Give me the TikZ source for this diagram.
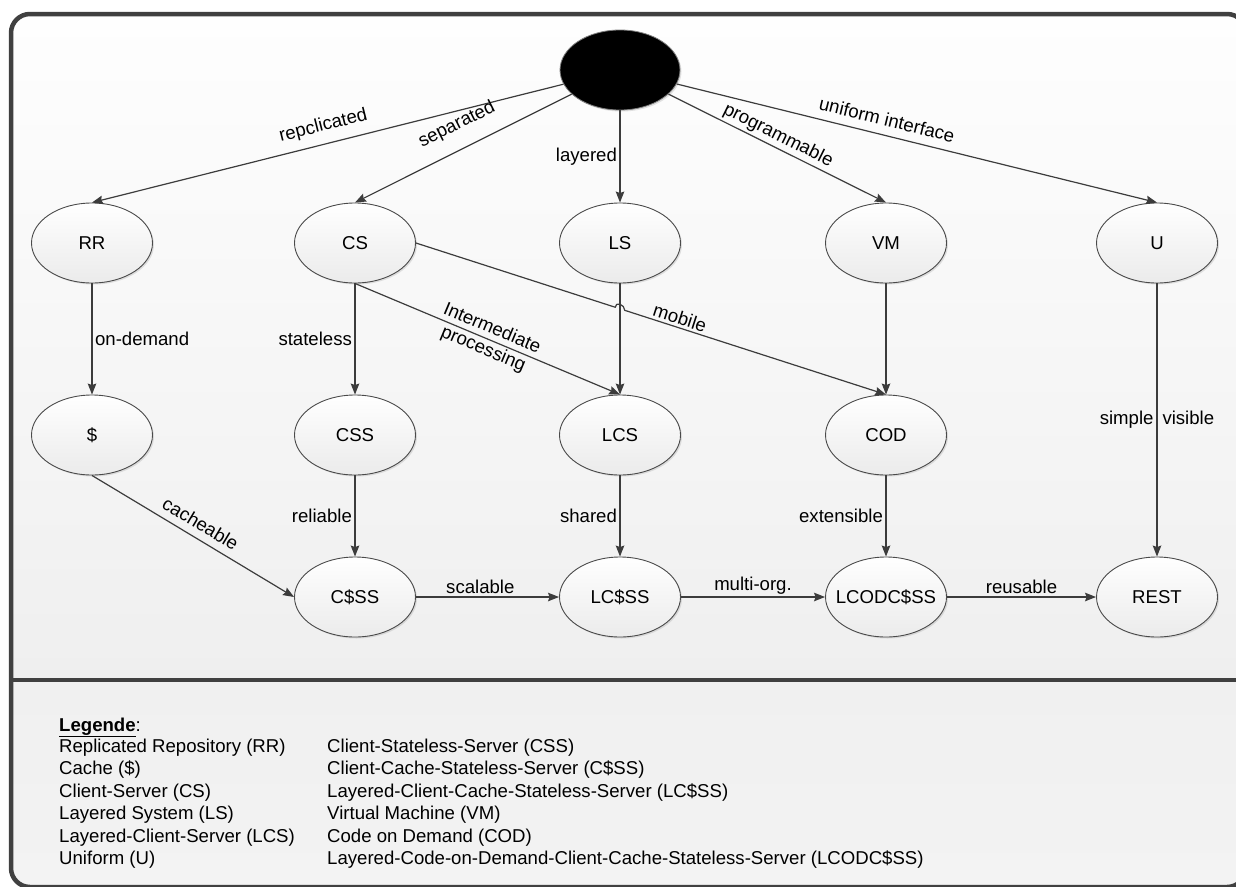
\documentclass[tikz,border=0pt]{standalone}
\usepackage{fontspec}
\setmainfont{Liberation Sans}
\usetikzlibrary{shapes.geometric,arrows.meta,calc,intersections,shadows}

\definecolor{framecol}{HTML}{404040}
\definecolor{edgecol}{HTML}{3C3C3C}
\definecolor{nodeborder}{HTML}{4A4A4A}
\definecolor{nodebottom}{HTML}{EBEBEB}
\definecolor{paneltop}{HTML}{FEFEFE}
\definecolor{panelbottom}{HTML}{EFEFEF}
\definecolor{legendtop}{HTML}{F0F0F0}
\definecolor{legendbottom}{HTML}{F3F3F3}

\newcommand{\nodetext}[1]{\makebox[0pt]{#1}}

\begin{document}
\begin{tikzpicture}[x=1pt,y=-1pt,
  font=\fontsize{18.6}{22.5}\selectfont,
  style node/.style={ellipse, draw=nodeborder, line width=0.9pt,
    minimum width=121pt, minimum height=80pt, inner sep=0pt,
    top color=white, bottom color=nodebottom,
    drop shadow={shadow xshift=1.5pt, shadow yshift=-1.5pt, opacity=0.22, fill=gray}},
  root node/.style={ellipse, draw=gray, line width=0.8pt, fill=black,
    minimum width=120pt, minimum height=80pt, inner sep=0pt,
    drop shadow={shadow xshift=1.5pt, shadow yshift=-1.5pt, opacity=0.22, fill=gray}},
  conn/.style={draw=edgecol, line width=1.2pt,
    -{Stealth[length=11pt,width=8.5pt,inset=1.5pt]}},
  lbl/.style={inner sep=2.5pt, text=black},
  legend line/.style={anchor=base west, inner sep=0pt}]

\useasboundingbox (0,0) rectangle (1236,886);
\clip (0,0) rectangle (1236,886);

% frame with diagram panel and legend panel
\begin{scope}
  \clip[rounded corners=19pt] (11,14) rectangle (1246,887);
  \shade[top color=paneltop, bottom color=panelbottom] (11,14) rectangle (1246,680);
  \shade[top color=legendtop, bottom color=legendbottom] (11,680) rectangle (1246,887);
\end{scope}
\draw[framecol, line width=4.5pt, rounded corners=19pt] (11,14) rectangle (1246,887);
\draw[framecol, line width=4pt] (11,680) -- (1246,680);

% styles and their derivations
\node[root node] (top) at (620,70) {};

\node[style node] (RR)  at (92,243)   {\nodetext{RR}};
\node[style node] (CS)  at (355,243)  {\nodetext{CS}};
\node[style node] (LS)  at (620,243)  {\nodetext{LS}};
\node[style node] (VM)  at (886,243)  {\nodetext{VM}};
\node[style node] (U)   at (1157,243) {\nodetext{U}};

\node[style node] (C)   at (92,435)   {\nodetext{\$}};
\node[style node] (CSS) at (355,435)  {\nodetext{CSS}};
\node[style node] (LCS) at (620,435)  {\nodetext{LCS}};
\node[style node] (COD) at (886,435)  {\nodetext{COD}};

\node[style node] (CCSS)    at (355,597)  {\nodetext{C\$SS}};
\node[style node] (LCCSS)   at (620,597)  {\nodetext{LC\$SS}};
\node[style node] (LCODCSS) at (886,597)  {\nodetext{LCODC\$SS}};
\node[style node] (REST)    at (1157,597) {\nodetext{REST}};

% from the root
\draw[conn] (top) -- node[lbl, sloped, above=6pt] {repclicated} (RR.north);
\draw[conn] (top) -- node[lbl, sloped, above=12pt, pos=0.48] {separated} (CS.north);
\draw[conn] (top) -- node[lbl, left] {layered} (LS.north);
\draw[conn] (top) -- node[lbl, sloped, above, pos=0.48] {programmable} (VM.north);
\draw[conn] (top) -- node[lbl, sloped, above=6pt, pos=0.43] {uniform interface} (U.north);

% second row
\draw[conn] (RR.south) -- node[lbl, right] {on-demand} (C.north);
\draw[conn] (CS.south) -- node[lbl, left] {stateless} (CSS.north);
\draw[conn] (CS.south) -- node[lbl, sloped, align=center, pos=0.5]
  {Intermediate\\processing} (LCS.north);
\draw[conn, name path=lsline] (LS.south) -- (LCS.north);
\draw[conn] (VM.south) -- (COD.north);

% mobile: hops over the LS line
\path[name path=mobline] (CS.east) -- (COD.north);
\path[name intersections={of=mobline and lsline, by=X}];
\coordinate (hopA) at ($(X)!5pt!(CS.east)$);
\coordinate (hopB) at ($(X)!5pt!(COD.north)$);
\draw[conn] (CS.east) -- (hopA) .. controls ($(hopA)+(0,-6)$) and ($(hopB)+(0,-6)$) .. (hopB)
  -- node[lbl, sloped, above, pos=0.2] {mobile} (COD.north);

% third row
\draw[conn] (C.south) -- node[lbl, sloped, above=5pt] {cacheable} (CCSS.west);
\draw[conn] (CSS.south) -- node[lbl, left] {reliable} (CCSS.north);
\draw[conn] (LCS.south) -- node[lbl, left] {shared} (LCCSS.north);
\draw[conn] (COD.south) -- node[lbl, left] {extensible} (LCODCSS.north);
\draw[conn] (U.south) -- node[lbl] {simple\hspace{9pt}visible} (REST.north);

\draw[conn] (CCSS.east) -- node[lbl, above, pos=0.45] {scalable} (LCCSS.west);
\draw[conn] (LCCSS.east) -- node[lbl, above] {multi-org.} (LCODCSS.west);
\draw[conn] (LCODCSS.east) -- node[lbl, above] {reusable} (REST.west);

% legend
\node[legend line] (leghead) at (59,731) {\underline{\textbf{Legende}}:};
\node[legend line] (la) at (59,752)   {Replicated Repository (RR)};
\node[legend line] (lb) at (59,774.5) {Cache (\$)};
\node[legend line] (lc) at (59,797)   {Client-Server (CS)};
\node[legend line] (ld) at (59,819.5) {Layered System (LS)};
\node[legend line] (le) at (59,842)   {Layered-Client-Server (LCS)};
\node[legend line] (lf) at (59,864.5) {Uniform (U)};

\node[legend line] (ra) at (327,752)   {Client-Stateless-Server (CSS)};
\node[legend line] (rb) at (327,774.5) {Client-Cache-Stateless-Server (C\$SS)};
\node[legend line] (rc) at (327,797)   {Layered-Client-Cache-Stateless-Server (LC\$SS)};
\node[legend line] (rd) at (327,819.5) {Virtual Machine (VM)};
\node[legend line] (re) at (327,842)   {Code on Demand (COD)};
\node[legend line] (rf) at (327,864.5) {Layered-Code-on-Demand-Client-Cache-Stateless-Server (LCODC\$SS)};

\end{tikzpicture}
\end{document}
